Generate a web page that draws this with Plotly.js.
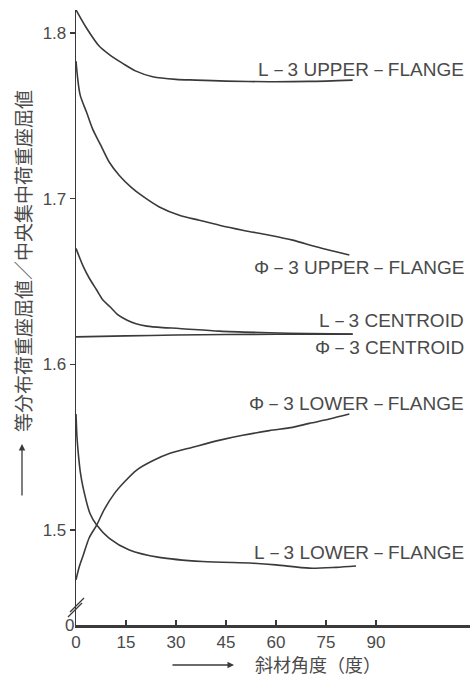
<!DOCTYPE html>
<html>
<head>
<meta charset="utf-8">
<script src="https://cdn.plot.ly/plotly-3.0.1.min.js"></script>
<style>html,body{margin:0;padding:0;background:#fff;}#chart{width:474px;height:677px;}</style>
</head>
<body>
<div id="chart"></div>
<script>
// ---- data (angle in degrees, ratio value) ----
const l3UpperX = [0, 3, 7, 10, 14, 18, 23, 30, 36, 45, 58, 70, 83];
const l3UpperY = [1.814, 1.8035, 1.792, 1.787, 1.7817, 1.777, 1.7736, 1.772, 1.7716, 1.771, 1.7706, 1.7708, 1.7716];

const p3UpperX = [0, 1.2, 3.2, 5, 7.5, 10, 13, 16.5, 20, 25, 31, 37, 43, 50, 58, 65, 72, 78, 82];
const p3UpperY = [1.783, 1.763, 1.752, 1.742, 1.732, 1.722, 1.714, 1.707, 1.7015, 1.695, 1.690, 1.687, 1.684, 1.681, 1.678, 1.675, 1.671, 1.668, 1.666];

const l3CentX = [0, 2.2, 4, 6.2, 8, 10.2, 12.5, 15.2, 18, 21.2, 26, 31, 43, 58, 70, 83];
const l3CentY = [1.670, 1.659, 1.652, 1.6449, 1.639, 1.6348, 1.630, 1.6268, 1.6245, 1.6231, 1.6222, 1.6217, 1.6201, 1.6191, 1.6186, 1.6183];

const p3CentX = [0, 15, 30, 45, 60, 83];
const p3CentY = [1.6166, 1.6172, 1.6177, 1.618, 1.6182, 1.6182];

const p3LowerX = [0, 1, 2.2, 4, 6.2, 8.5, 11.5, 14.5, 18.2, 23, 28.2, 35, 43.2, 50, 58, 65, 70, 76, 82];
const p3LowerY = [1.470, 1.478, 1.485, 1.4955, 1.503, 1.5125, 1.522, 1.529, 1.5362, 1.5418, 1.5463, 1.550, 1.5543, 1.5572, 1.560, 1.562, 1.5644, 1.567, 1.570];

const l3LowerX = [0, 0.3, 0.7, 1.3, 2.2, 4.2, 6.2, 10, 16, 25, 38, 53, 60, 70, 78, 84];
const l3LowerY = [1.570, 1.556, 1.546, 1.535, 1.525, 1.510, 1.503, 1.495, 1.488, 1.4835, 1.481, 1.480, 1.479, 1.477, 1.4775, 1.4783];

const xTickVals = [0, 15, 30, 45, 60, 75, 90];
const xTickText = ['0', '15', '30', '45', '60', '75', '90'];
const yTickVals = [1.5, 1.6, 1.7, 1.8];
const yTickText = ['1.5', '1.6', '1.7', '1.8'];

const seriesLabels = ['L－3 UPPER－FLANGE', 'Φ－3 UPPER－FLANGE', 'L－3 CENTROID', 'Φ－3 CENTROID', 'Φ－3 LOWER－FLANGE', 'L－3 LOWER－FLANGE'];
const yTitle = '等分布荷重座屈値／中央集中荷重座屈値';
const xTitle = '斜材角度（度）';

// ---- styling ----
const lineColor = '#3a3a3a';
const textColor = '#4a4a4a';
const tickFont = {family: 'Liberation Sans, sans-serif', size: 17, color: textColor};
const labelFont = {family: 'Liberation Sans, sans-serif', size: 19, color: textColor};
const cjkFont = {family: 'Noto Sans CJK JP, sans-serif', size: 18, color: textColor};
const cjkYFont = {family: 'Noto Sans CJK JP, sans-serif', size: 19, color: textColor};

function tr(x, y) {
  return {x: x, y: y, type: 'scatter', mode: 'lines', line: {color: lineColor, width: 1.6, shape: 'spline', smoothing: 0.8}, hoverinfo: 'skip', showlegend: false};
}
const data = [
  tr(l3UpperX, l3UpperY), tr(p3UpperX, p3UpperY), tr(l3CentX, l3CentY),
  tr(p3CentX, p3CentY), tr(p3LowerX, p3LowerY), tr(l3LowerX, l3LowerY)
];

// plot area: x 76..470 px, y 10..625 px
const L = 76, R = 4, T = 10, B = 52, W = 474, H = 677;
const pw = W - L - R, ph = H - T - B;
const px = v => (v - L) / pw;
const py = v => (H - B - v) / ph;

const labelY = [70, 267, 321, 347, 403, 552];
const annotations = seriesLabels.map((t, i) => ({
  text: t, xref: 'paper', yref: 'paper', x: px(466), y: py(labelY[i]),
  xanchor: 'right', yanchor: 'middle', showarrow: false, font: labelFont
}));
annotations.push({text: yTitle, xref: 'paper', yref: 'paper', x: px(22), y: py(261), textangle: -90,
  xanchor: 'center', yanchor: 'middle', showarrow: false, font: cjkYFont});
annotations.push({text: '', xref: 'paper', yref: 'paper', x: px(22), y: py(444), ax: 0, ay: 53,
  showarrow: true, arrowhead: 2, arrowsize: 1, arrowwidth: 1.3, arrowcolor: lineColor});
annotations.push({text: xTitle, xref: 'paper', yref: 'paper', x: px(318), y: py(664),
  xanchor: 'center', yanchor: 'middle', showarrow: false, font: cjkFont});
annotations.push({text: '', xref: 'paper', yref: 'paper', x: px(234), y: py(665), ax: -63, ay: 0,
  showarrow: true, arrowhead: 2, arrowsize: 1, arrowwidth: 1.3, arrowcolor: lineColor});
annotations.push({text: '0', xref: 'paper', yref: 'paper', x: px(69), y: py(625),
  xanchor: 'center', yanchor: 'middle', showarrow: false, font: tickFont});

const shapes = [
  {type: 'line', xref: 'paper', yref: 'paper', x0: px(68), y0: py(617), x1: px(82), y1: py(603), line: {color: lineColor, width: 1.2}},
  {type: 'line', xref: 'paper', yref: 'paper', x0: px(70), y0: py(612), x1: px(84), y1: py(598), line: {color: lineColor, width: 1.2}}
];

const layout = {
  width: W, height: H,
  margin: {l: L, r: R, t: T, b: B, pad: 0},
  paper_bgcolor: '#ffffff', plot_bgcolor: '#ffffff',
  showlegend: false,
  xaxis: {
    range: [0, pw / (50 / 15)], showgrid: false, zeroline: false,
    showline: true, linecolor: lineColor, linewidth: 2.5,
    ticks: 'inside', ticklen: 5, tickwidth: 1.3, tickcolor: lineColor,
    tickvals: xTickVals, ticktext: xTickText, tickfont: tickFont, fixedrange: true
  },
  yaxis: {
    range: [1.4427, 1.8139], showgrid: false, zeroline: false,
    showline: true, linecolor: lineColor, linewidth: 1.3,
    ticks: 'outside', ticklen: 5, tickwidth: 1.2, tickcolor: lineColor,
    tickvals: yTickVals, ticktext: yTickText, tickfont: tickFont, fixedrange: true
  },
  annotations: annotations,
  shapes: shapes
};

Plotly.newPlot('chart', data, layout, {staticPlot: true, displayModeBar: false});
</script>
</body>
</html>
